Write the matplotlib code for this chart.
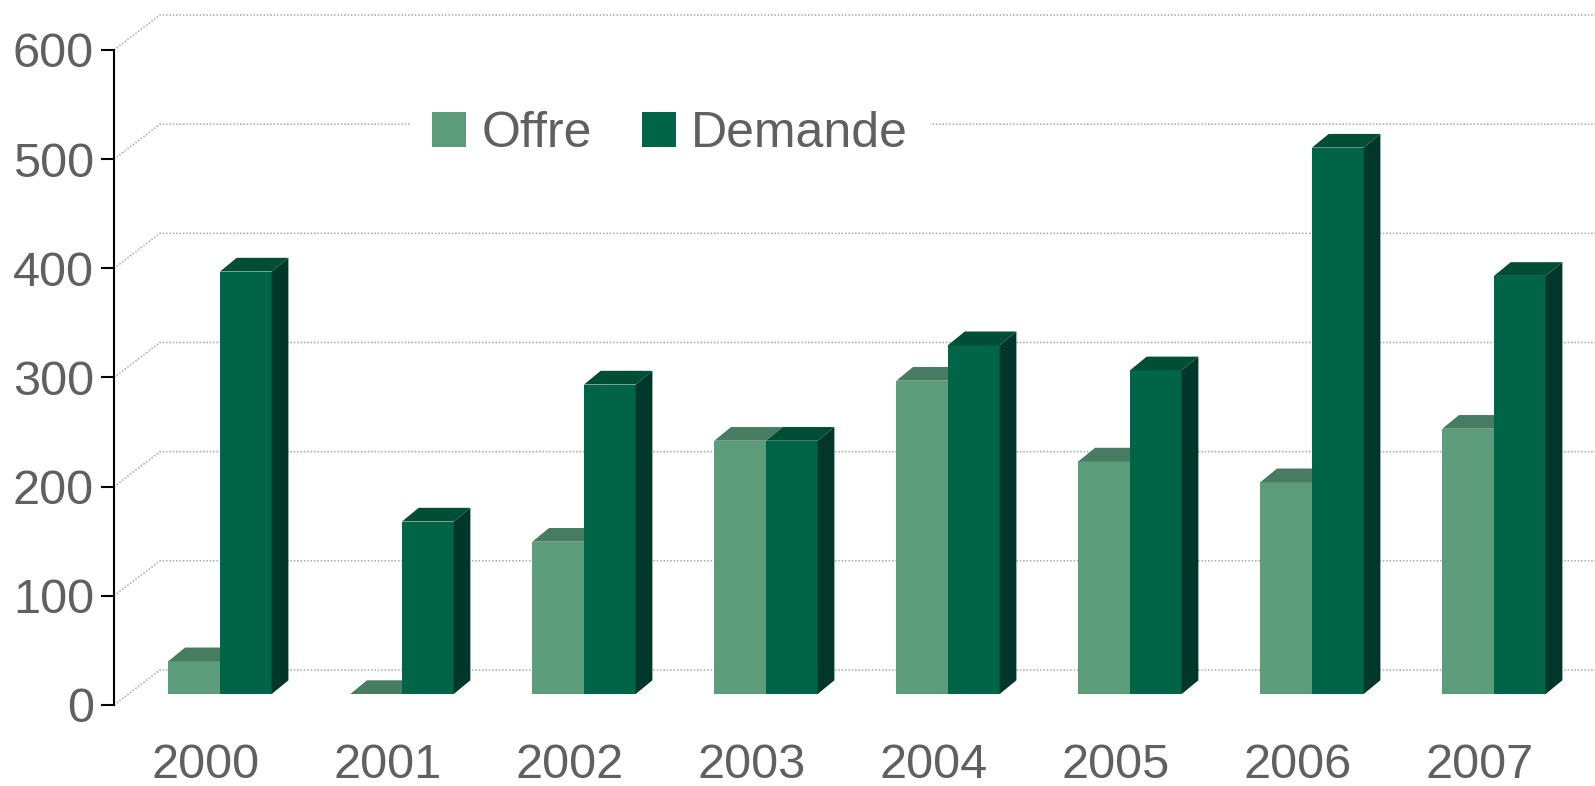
import numpy as np
import matplotlib
matplotlib.use("Agg")
import matplotlib.pyplot as plt
from matplotlib.patches import Polygon, Patch

plt.rcParams['font.family'] = ['Liberation Sans', 'DejaVu Sans']

# donnees
annees = ['2000', '2001', '2002', '2003', '2004', '2005', '2006', '2007']
offre = [30, 0, 139.5, 232, 287, 213, 194, 243]
demande = [387, 158, 283.5, 232, 319.5, 296.5, 500.5, 383]
graduations = [0, 100, 200, 300, 400, 500, 600]

# couleurs (face avant, dessus, cote)
c_offre = ('#5c9c7b', '#487c62', '#3f6e56')
c_demande = ('#006446', '#004f35', '#00372a')
c_texte = '#606060'
c_grille = '#a8a8a8'

W, H = 1595, 786
fig = plt.figure(figsize=(W / 100, H / 100), dpi=100)
ax = fig.add_axes([114 / W, 81 / H, (W - 114) / W, 655 / H])
ax.set_ylim(0, 600)
x0 = (114 - 206) / 182
ax.set_xlim(x0, (W - 206) / 182)

# echelles en pixels -> donnees pour l'effet 3D
px_x = 182.0
px_y = 655 / 600
mur_dx, mur_dy = 46 / px_x, 35 / px_y      # profondeur du mur du fond
bar_dx, bar_dy = 14 / px_x, 11 / px_y      # decalage de la face avant des barres
prof_dx, prof_dy = 16.7 / px_x, 13.7 / px_y  # epaisseur des barres
w = 51.7 / px_x

# grille sur le mur du fond
for v in graduations:
    ax.plot([x0, x0 + mur_dx, ax.get_xlim()[1]], [v, v + mur_dy, v + mur_dy],
            color=c_grille, lw=1.1, linestyle=(0, (1, 1.2)), clip_on=False, zorder=1)


def barre_3d(xg, haut, couleurs, cote=True):
    xd = xg + w
    bas = bar_dy
    sommet = bas + haut
    ax.bar(xg, haut, width=w, bottom=bas, align='edge', color=couleurs[0],
           linewidth=0, clip_on=False, zorder=3)
    dessus = Polygon([(xg, sommet), (xd, sommet), (xd + prof_dx, sommet + prof_dy),
                      (xg + prof_dx, sommet + prof_dy)], closed=True,
                     facecolor=couleurs[1], edgecolor='none', clip_on=False, zorder=3)
    ax.add_patch(dessus)
    if cote:
        flanc = Polygon([(xd, bas), (xd + prof_dx, bas + prof_dy),
                         (xd + prof_dx, sommet + prof_dy), (xd, sommet)], closed=True,
                        facecolor=couleurs[2], edgecolor='none', clip_on=False, zorder=3)
        ax.add_patch(flanc)


for i in range(len(annees)):
    barre_3d(i + bar_dx - w, offre[i], c_offre, cote=False)
    barre_3d(i + bar_dx, demande[i], c_demande)

# axes
for s in ['top', 'right', 'bottom']:
    ax.spines[s].set_visible(False)
ax.spines['left'].set_linewidth(1.5)
ax.spines['left'].set_color('black')
ax.set_yticks(graduations)
ax.tick_params(axis='y', length=9.4, width=1.5, color='black', labelcolor=c_texte,
               labelsize=35, pad=5)
ax.set_xticks(range(len(annees)))
ax.set_xticklabels(annees)
ax.tick_params(axis='x', length=0, labelcolor=c_texte, labelsize=35, pad=27)

# legende
poignees = [Patch(facecolor=c_offre[0], label='Offre'),
            Patch(facecolor=c_demande[0], label='Demande')]
leg = fig.legend(handles=poignees, loc='center', ncol=2, fontsize=36,
                 bbox_to_anchor=(670 / W, 1 - 134 / H), bbox_transform=fig.transFigure,
                 frameon=True, fancybox=False, handlelength=0.68, handleheight=0.68,
                 handletextpad=0.3, columnspacing=1.0, borderpad=0.45)
leg.get_frame().set_facecolor('white')
leg.get_frame().set_edgecolor('none')
leg.get_frame().set_alpha(1)
for t in leg.get_texts():
    t.set_color(c_texte)

fig.savefig('out.png', dpi=100, facecolor='white')
